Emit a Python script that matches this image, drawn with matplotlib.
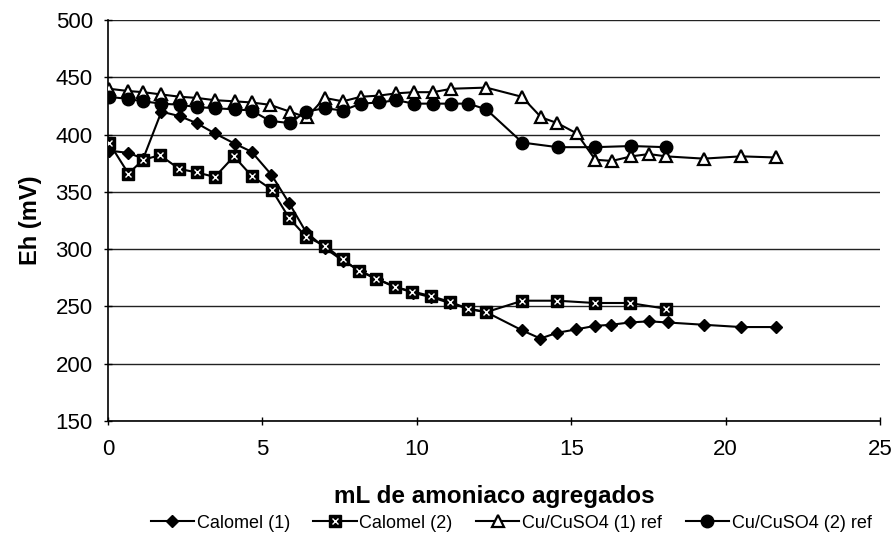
import matplotlib
matplotlib.use("Agg")
import matplotlib.pyplot as plt
from matplotlib.legend_handler import HandlerTuple

# Volumes of ammonia added (mL) and measured Eh (mV)
x_cal1 = [0.03, 0.66, 1.14, 1.73, 2.33, 2.87, 3.46, 4.11, 4.65, 5.29, 5.87, 6.41, 7.02,
          7.6, 8.16, 8.72, 9.31, 9.88, 10.47, 11.07, 11.66, 12.25, 13.42, 14.0, 14.55,
          15.17, 15.76, 16.3, 16.89, 17.52, 18.12, 19.29, 20.5, 21.64]
y_cal1 = [386, 384, 379, 420, 416, 410, 401, 392, 385, 365, 340, 315, 301,
          290, 281, 274, 267, 262, 258, 253, 248, 245, 229, 222, 227,
          230, 233, 234, 236, 237, 236, 234, 232, 232]

x_cal2 = [0.03, 0.66, 1.14, 1.68, 2.31, 2.87, 3.46, 4.08, 4.65, 5.3, 5.87, 6.41, 7.02,
          7.6, 8.13, 8.69, 9.29, 9.86, 10.47, 11.07, 11.66, 12.25, 13.42, 14.54,
          15.76, 16.89, 18.06]
y_cal2 = [393, 366, 378, 382, 370, 367, 363, 381, 364, 352, 327, 311, 303,
          291, 281, 274, 267, 263, 259, 254, 248, 245, 255, 255,
          253, 253, 248]

x_cu1 = [0.03, 0.66, 1.14, 1.73, 2.33, 2.87, 3.46, 4.11, 4.65, 5.24, 5.89, 6.43, 7.02,
         7.6, 8.19, 8.77, 9.34, 9.9, 10.53, 11.12, 12.25, 13.4, 14.03, 14.55, 15.18,
         15.78, 16.32, 16.95, 17.52, 18.06, 19.29, 20.5, 21.64]
y_cu1 = [440, 438, 437, 435, 433, 432, 430, 429, 428, 426, 420, 415, 432,
         429, 433, 434, 436, 437, 437, 440, 441, 433, 415, 410, 401,
         378, 377, 381, 383, 381, 379, 381, 380]

x_cu2 = [0.03, 0.66, 1.14, 1.73, 2.33, 2.87, 3.46, 4.11, 4.65, 5.24, 5.89, 6.4, 7.02,
         7.6, 8.19, 8.77, 9.34, 9.9, 10.53, 11.1, 11.67, 12.25, 13.42, 14.56, 15.76,
         16.95, 18.06]
y_cu2 = [433, 431, 429, 427, 426, 424, 423, 422, 421, 412, 410, 420, 423,
         421, 427, 428, 430, 427, 427, 427, 427, 422, 393, 389, 389,
         390, 389]

labels = ["Calomel (1)", "Calomel (2)", "Cu/CuSO4 (1) ref", "Cu/CuSO4 (2) ref"]
x_ticks = [0, 5, 10, 15, 20, 25]
y_ticks = [150, 200, 250, 300, 350, 400, 450, 500]

plt.rcParams["font.family"] = ["Liberation Sans", "DejaVu Sans"]

fig = plt.figure(figsize=(8.91, 5.35), dpi=100)
ax = fig.add_axes([108 / 891, 1 - 421 / 535, (880 - 108) / 891, (421 - 20) / 535])

lw = 1.5
h1, = ax.plot(x_cal1, y_cal1, color="black", lw=lw, marker="D", ms=6.5,
              mfc="black", mec="black", zorder=3)
h2a, = ax.plot(x_cal2, y_cal2, color="black", lw=lw, marker="s", ms=8,
               mfc="black", mec="black", zorder=4)
h2b, = ax.plot(x_cal2, y_cal2, ls="none", marker="x", ms=4, mew=1.0,
               mec="white", zorder=4.5)
h3, = ax.plot(x_cu1, y_cu1, color="black", lw=lw, marker="^", ms=8,
              mfc="white", mec="black", mew=1.6, zorder=5)
h4, = ax.plot(x_cu2, y_cu2, color="black", lw=lw, marker="o", ms=9,
              mfc="black", mec="black", zorder=6)

ax.set_xlim(0, 25)
ax.set_ylim(150, 500)
ax.set_xticks(x_ticks)
ax.set_yticks(y_ticks)
ax.tick_params(axis="both", direction="inout", length=6, width=1,
               labelsize=16, colors="black")
ax.tick_params(axis="x", pad=10)
ax.tick_params(axis="y", pad=8)

ax.grid(axis="y", color="#222222", lw=1.0)
ax.set_axisbelow(True)
for side in ("top", "right"):
    ax.spines[side].set_visible(False)
ax.spines["left"].set_linewidth(1.2)
ax.spines["bottom"].set_linewidth(1.2)

ax.set_xlabel("mL de amoniaco agregados", fontsize=17.5, fontweight="bold", labelpad=18)
ax.set_ylabel("Eh (mV)", fontsize=17, fontweight="bold", labelpad=10)

leg = fig.legend([h1, (h2a, h2b), h3, h4], labels,
                 handler_map={tuple: HandlerTuple(ndivide=1, pad=0)},
                 loc="center", bbox_to_anchor=(511 / 891, 1 - 523 / 535),
                 ncol=4, frameon=False, handlelength=2.4, handletextpad=0.15,
                 columnspacing=1.3, borderaxespad=0, borderpad=0,
                 prop={"size": 13})

fig.savefig("out.png", dpi=100)
